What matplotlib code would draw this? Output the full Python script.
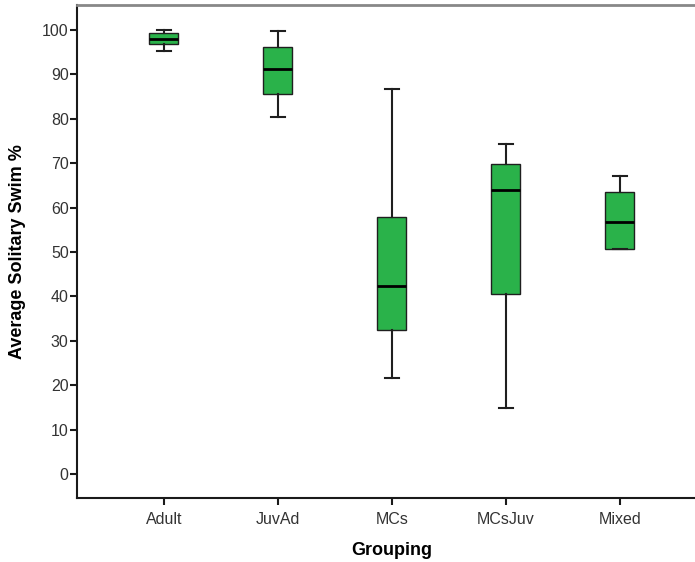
import matplotlib
matplotlib.use('Agg')
import matplotlib.pyplot as plt

groups = ['Adult', 'JuvAd', 'MCs', 'MCsJuv', 'Mixed']
whislo = [95.3, 80.4, 21.6, 14.9, 50.7]
q1 = [96.8, 85.6, 32.4, 40.6, 50.7]
med = [98.0, 91.2, 42.3, 64.0, 56.8]
q3 = [99.2, 96.2, 57.9, 69.9, 63.4]
whishi = [99.9, 99.8, 86.7, 74.3, 67.2]
yticks = list(range(0, 101, 10))

plt.rcParams['font.family'] = ['Liberation Sans', 'DejaVu Sans']

stats = [dict(label=g, whislo=a, q1=b, med=c, q3=d, whishi=e, fliers=[])
         for g, a, b, c, d, e in zip(groups, whislo, q1, med, q3, whishi)]

fig = plt.figure(figsize=(6.95, 5.62), dpi=100)
ax = fig.add_axes([0.1108, 0.1139, 0.8892, 0.8772])

ax.bxp(stats, positions=range(len(groups)), widths=0.254, patch_artist=True,
       showfliers=False,
       boxprops=dict(facecolor='#2ab24a', edgecolor='#1f1f1f', linewidth=1.0),
       medianprops=dict(color='black', linewidth=2.0),
       whiskerprops=dict(color='#1f1f1f', linewidth=1.5),
       capprops=dict(color='#1f1f1f', linewidth=1.5))

ax.set_xlim(-0.763, 4.66)
ax.set_ylim(-5.4, 105.6)
ax.set_yticks(yticks)
ax.set_xticks(range(len(groups)))
ax.set_xticklabels(groups)

ax.tick_params(axis='both', direction='out', length=5, width=1.5,
               labelsize=11.5, colors='#1a1a1a', labelcolor='#333333')
ax.tick_params(axis='y', pad=1)
ax.tick_params(axis='x', pad=5)

for s in ['left', 'bottom']:
    ax.spines[s].set_linewidth(1.5)
    ax.spines[s].set_color('#1a1a1a')
ax.spines['top'].set_color('#888888')
ax.spines['top'].set_linewidth(2)
ax.spines['right'].set_visible(False)

ax.set_xlabel('Grouping', fontsize=13, fontweight='bold')
ax.xaxis.set_label_coords((392 - 77) / 618, -0.09)
ax.set_ylabel('Average Solitary Swim %', fontsize=13, fontweight='bold')
ax.yaxis.set_label_coords(-0.083, 0.5)

fig.savefig('out.png', dpi=100)
